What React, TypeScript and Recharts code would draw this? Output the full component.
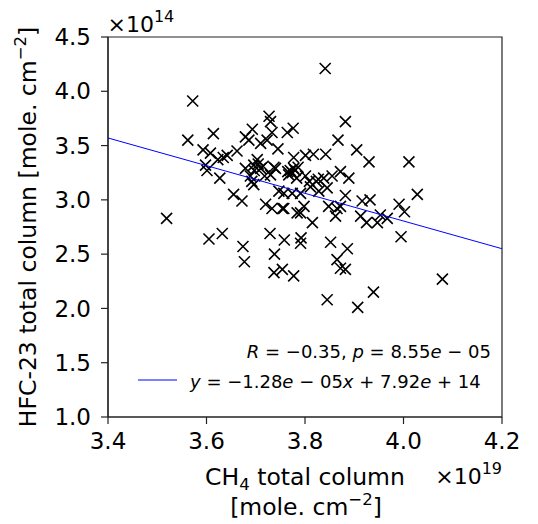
import { ScatterChart, Scatter, XAxis, YAxis, ReferenceArea } from "recharts";

// CH4 total column (x1e19 molec/cm2) and HFC-23 total column (x1e14)
const ch4Column = [
  3.841, 3.572, 3.727, 3.73, 3.882, 3.776, 3.764, 3.733, 3.562, 3.614,
  3.693, 3.679, 3.686, 3.867, 3.723, 3.71, 3.745, 3.905, 3.93, 4.011,
  3.842, 3.817, 3.801, 3.777, 3.593, 3.608, 3.634, 3.642, 3.662, 3.623,
  3.598, 3.601, 3.627, 3.655, 3.672, 3.519, 3.679, 3.696, 3.703, 3.71,
  3.689, 3.696, 3.715, 3.73, 3.74, 3.747, 3.72, 3.733, 3.754, 3.767,
  3.777, 3.783, 3.784, 3.774, 3.774, 3.765, 3.78, 3.786, 3.801, 3.823,
  3.838, 3.855, 3.872, 3.889, 3.845, 3.882, 3.828, 3.811, 3.791, 3.757,
  4.028, 3.798, 3.791, 3.757, 3.848, 3.865, 3.872, 3.862, 3.916, 3.932,
  3.913, 3.925, 3.947, 3.953, 3.967, 3.991, 4.002, 3.815, 3.995, 3.605,
  3.632, 3.674, 3.677, 3.729, 3.738, 3.737, 3.754, 3.777, 3.758, 3.792,
  3.791, 3.852, 3.886, 3.865, 3.872, 3.882, 3.845, 3.907, 3.939, 4.079,
  3.697, 3.705, 3.718, 3.737, 3.77, 3.692, 3.809, 3.827,
];
const hfc23Column = [
  4.21, 3.91, 3.77, 3.72, 3.72, 3.66, 3.62, 3.62, 3.55, 3.61,
  3.65, 3.58, 3.55, 3.55, 3.55, 3.52, 3.47, 3.46, 3.35, 3.35,
  3.42, 3.42, 3.41, 3.39, 3.46, 3.43, 3.39, 3.41, 3.45, 3.37,
  3.32, 3.27, 3.2, 3.05, 2.99, 2.83, 3.29, 3.32, 3.37, 3.29,
  3.22, 3.14, 3.31, 3.23, 3.29, 3.08, 2.96, 2.92, 2.92, 3.23,
  3.29, 3.2, 2.88, 3.06, 3.25, 3.26, 3.27, 3.3, 3.22, 3.17,
  3.2, 3.22, 3.26, 3.2, 3.11, 3.04, 3.08, 3.12, 3.06, 3.06,
  3.05, 2.94, 2.88, 2.92, 2.94, 2.92, 2.94, 2.85, 2.99, 3.0,
  2.85, 2.79, 2.79, 2.86, 2.83, 2.96, 2.89, 2.79, 2.66, 2.64,
  2.69, 2.57, 2.43, 2.69, 2.5, 2.33, 2.36, 2.3, 2.63, 2.65,
  2.6, 2.61, 2.55, 2.45, 2.37, 2.36, 2.08, 2.01, 2.15, 2.27,
  3.27, 3.33, 3.22, 3.3, 3.27, 3.17, 3.17, 3.19,
];

// regression line end points
const fitX = [3.4, 4.2];
const fitY = [3.57, 2.55];

const xTicks = [3.4, 3.6, 3.8, 4.0, 4.2];
const yTicks = [1.0, 1.5, 2.0, 2.5, 3.0, 3.5, 4.0, 4.5];

const points = ch4Column.map((x, i) => ({ x, y: hfc23Column[i] }));
const fitLine = fitX.map((x, i) => ({ x, y: fitY[i] }));

const FONT = "DejaVu Sans";
const tickStyle = { fill: "#000", fontSize: 23, fontFamily: FONT };

const Cross = (props: any) => {
  const { cx, cy } = props;
  const r = 5.5;
  return (
    <path
      d={`M${cx - r},${cy - r}L${cx + r},${cy + r}M${cx - r},${cy + r}L${cx + r},${cy - r}`}
      stroke="#000"
      strokeWidth={1.6}
      fill="none"
    />
  );
};

export default function App() {
  return (
    <div style={{ position: "absolute", left: 0, top: 0, width: 538, height: 524, background: "#fff" }}>
      <ScatterChart width={538} height={524} margin={{ top: 37, right: 36, bottom: 0, left: 0 }}>
        <XAxis
          type="number"
          dataKey="x"
          domain={[3.4, 4.2]}
          ticks={xTicks}
          interval={0}
          allowDataOverflow
          height={107}
          tickSize={7}
          tickMargin={9}
          tick={tickStyle}
          tickFormatter={(v) => v.toFixed(1)}
          axisLine={{ stroke: "#222", strokeWidth: 1.2 }}
          tickLine={{ stroke: "#222", strokeWidth: 1.2 }}
        />
        <YAxis
          type="number"
          dataKey="y"
          domain={[1, 4.5]}
          ticks={yTicks}
          interval={0}
          allowDataOverflow
          width={108}
          tickSize={7}
          tickMargin={10}
          tick={tickStyle}
          tickFormatter={(v) => v.toFixed(1)}
          axisLine={{ stroke: "#222", strokeWidth: 1.2 }}
          tickLine={{ stroke: "#222", strokeWidth: 1.2 }}
        />
        <Scatter data={points} shape={Cross} isAnimationActive={false} />
        <Scatter
          data={fitLine}
          line={{ stroke: "#0000ff", strokeWidth: 1 }}
          shape={() => <g />}
          isAnimationActive={false}
        />
        <ReferenceArea x1={3.4} x2={4.2} y1={1} y2={4.5} fill="none" stroke="#222" strokeWidth={1.2} />
      </ScatterChart>

      <svg
        width={538}
        height={524}
        style={{ position: "absolute", left: 0, top: 0, pointerEvents: "none" }}
        fontFamily={FONT}
        fill="#000"
      >
        <text x={107.5} y={31.7} fontSize={22}>
          ×10<tspan fontSize={16} dy={-10}>14</tspan>
        </text>
        <text x={502} y={484} fontSize={22} textAnchor="end">
          ×10<tspan fontSize={16} dy={-10}>19</tspan>
        </text>
        <text x={305} y={485} fontSize={23.5} textAnchor="middle">
          CH<tspan fontSize={16.5} dy={5}>4</tspan>
          <tspan dy={-5}> total column</tspan>
        </text>
        <text x={306} y={515} fontSize={23.5} textAnchor="middle">
          [mole. cm<tspan fontSize={16.5} dy={-10}>−2</tspan>
          <tspan dy={10}>]</tspan>
        </text>
        <text transform="rotate(-90)" x={-227} y={36} fontSize={23.5} textAnchor="middle">
          HFC-23 total column [mole. cm<tspan fontSize={16.5} dy={-10}>−2</tspan>
          <tspan dy={10}>]</tspan>
        </text>

        <text x={491} y={358} fontSize={18} textAnchor="end">
          <tspan fontStyle="italic">R</tspan> = −0.35, <tspan fontStyle="italic">p</tspan> = 8.55
          <tspan fontStyle="italic">e</tspan> − 05
        </text>
        <line x1={138} x2={177} y1={380} y2={380} stroke="#0000ff" strokeWidth={1.2} />
        <text x={190} y={388} fontSize={18}>
          <tspan fontStyle="italic">y</tspan> = −1.28<tspan fontStyle="italic">e</tspan> − 05
          <tspan fontStyle="italic">x</tspan> + 7.92<tspan fontStyle="italic">e</tspan> + 14
        </text>
      </svg>
    </div>
  );
}
